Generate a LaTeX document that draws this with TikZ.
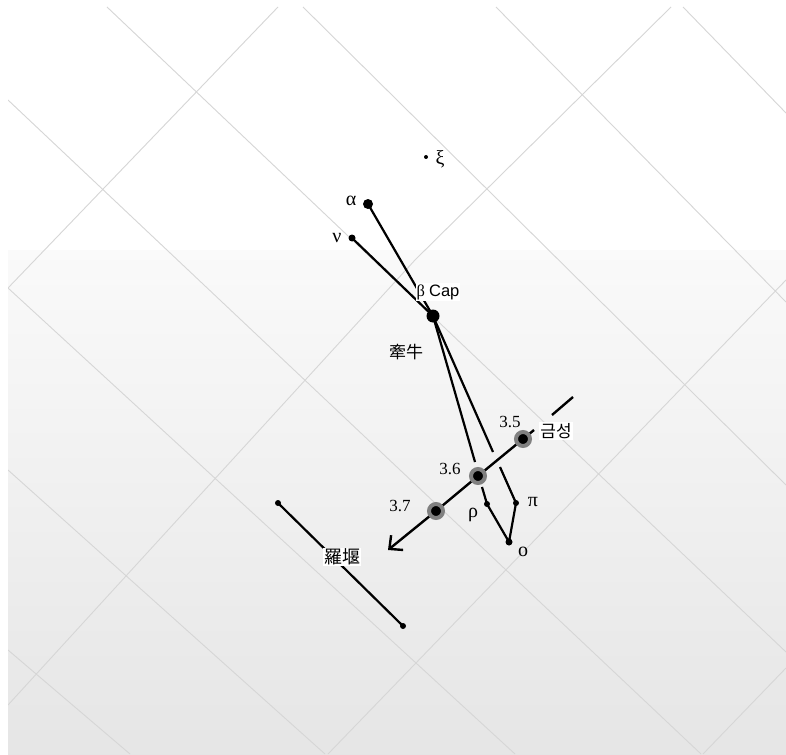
\documentclass[tikz,border=0pt]{standalone}
\usepackage{fontspec}
\setmainfont{Liberation Serif}
\newfontfamily\sansf{Liberation Sans}
\newfontfamily\cjk{Noto Sans CJK KR}
\usetikzlibrary{arrows.meta}
\begin{document}
\begin{tikzpicture}[x=1pt,y=-1pt,
  gridline/.style={draw=gray!32, line width=0.9pt},
  starline/.style={draw=black, line width=2.2pt},
  ecl/.style={draw=black, line width=2.4pt},
  stardot/.style={circle, fill=black, inner sep=0pt, minimum size=#1},
  halodot/.style={circle, fill=black, inner sep=0pt, minimum size=14pt, draw=black!50, line width=4pt},
  lbl/.style={inner sep=1pt, font=\fontsize{17}{20}\selectfont},
  glbl/.style={inner sep=1pt, font=\fontsize{20}{24}\selectfont},
  wlbl/.style={lbl, fill=white},
]
\useasboundingbox (0,0) rectangle (786,754);
\fill[white] (0,0) rectangle (786,754);
\shade[top color=white!98!black, bottom color=white!90!black] (8,250) rectangle (786,754);

% grid
\begin{scope}
\clip (8,7) rectangle (786,754);
\draw[gridline] (683,7) -- (786,113);
\draw[gridline] (496,7) -- (786,302);
\draw[gridline] (303,7) -- (786,485);
\draw[gridline] (107,7) -- (786,652);
\draw[gridline] (8,100) -- (701,754);
\draw[gridline] (8,288) -- (515,754);
\draw[gridline] (8,470) -- (325,754);
\draw[gridline] (8,650) -- (130,754);
\draw[gridline] (278,7) -- (8,288);
\draw[gridline] (671,7) -- (415,260) -- (8,705);
\draw[gridline] (786,280) -- (328,754);
\draw[gridline] (786,668) -- (703,754);
\end{scope}

% positions
\coordinate (xi) at (426,157);
\coordinate (alpha) at (368,204);
\coordinate (nu) at (352,238);
\coordinate (big) at (433,316);
\coordinate (rho) at (487,504);
\coordinate (pi) at (516,503);
\coordinate (omic) at (509,542);
\coordinate (ra1) at (278,503);
\coordinate (ra2) at (403,626);
\coordinate (p35) at (523,439);
\coordinate (p36) at (478,476);
\coordinate (p37) at (436,511);
\coordinate (E1) at (573,397);
\coordinate (E2) at (552,415);
\coordinate (E3) at (534,430);
\coordinate (tip) at (388,550);
\coordinate (G1) at (475,462);
\coordinate (G2) at (482,487);
\coordinate (G3) at (493,452);
\coordinate (G4) at (500,467);

% constellation lines
\draw[starline] (alpha) -- (big);
\draw[starline] (nu) -- (big);
\draw[starline] (big) -- (G1);
\draw[starline] (G2) -- (rho);
\draw[starline] (big) -- (G3);
\draw[starline] (G4) -- (pi);
\draw[starline] (rho) -- (omic) -- (pi);
\draw[starline] (ra1) -- (ra2);

% labels with white background
\node[wlbl, font=\fontsize{16.5}{19}\selectfont] (lbeta) at (438,292) {β {\sansf Cap}};
\node[wlbl, font=\fontsize{18}{21}\selectfont\cjk] (lra) at (342,557) {羅堰};
\node[wlbl, font=\fontsize{17}{20}\selectfont\cjk] (lvenus) at (556,431) {금성};

% ecliptic path of Venus
\draw[ecl] (E1) -- (E2);
\draw[ecl, -{Straight Barb[length=10pt,width=19pt]}] (E3) -- (p35) -- (p36) -- (p37) -- (tip);

% dots
\node[stardot=4pt] (dxi) at (xi) {};
\node[stardot=10pt] (dalpha) at (alpha) {};
\node[stardot=7pt] (dnu) at (nu) {};
\node[stardot=13pt] (dbig) at (big) {};
\node[stardot=6pt] (drho) at (rho) {};
\node[stardot=6pt] (dpi) at (pi) {};
\node[stardot=7pt] (domic) at (omic) {};
\node[stardot=6pt] (dra1) at (ra1) {};
\node[stardot=6pt] (dra2) at (ra2) {};
\node[halodot] (d35) at (p35) {};
\node[halodot] (d36) at (p36) {};
\node[halodot] (d37) at (p37) {};

% other labels
\node[glbl] (lxi) at (440,159) {ξ};
\node[glbl] (lalpha) at (351,201) {α};
\node[glbl] (lnu) at (337,238) {ν};
\node[lbl, font=\fontsize{17}{20}\selectfont\cjk] (lniu) at (406,352) {牽牛};
\node[lbl] (l35) at (510,422) {3.5};
\node[lbl] (l36) at (450,469) {3.6};
\node[lbl] (l37) at (400,506) {3.7};
\node[glbl] (lrho) at (473,515) {ρ};
\node[glbl] (lpi) at (533,502) {π};
\node[glbl] (lomic) at (523,552) {ο};
\end{tikzpicture}
\end{document}
